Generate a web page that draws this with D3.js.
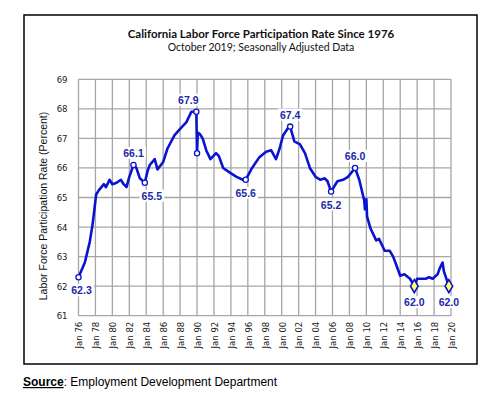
<!DOCTYPE html>
<html>
<head>
<meta charset="utf-8">
<script src="https://cdn.jsdelivr.net/npm/d3@7"></script>
<style>
  body { margin: 0; background: #fff; }
  svg { display: block; }
</style>
</head>
<body>
<div id="chart"></div>
<script>
// data (month, percent)
const months = [
  "1976-01","1976-10","1977-05","1977-09","1978-02","1978-06","1979-01","1979-04","1979-09","1980-01",
  "1980-07","1981-01","1981-05","1981-09","1982-01","1982-07","1982-11","1983-04","1983-11","1984-03",
  "1984-06","1985-01","1985-05","1986-01","1986-07","1987-05","1988-02","1988-10","1989-05","1989-12",
  "1990-01","1990-02","1990-05","1990-09","1991-02","1991-08","1992-04","1992-08","1993-02","1993-11",
  "1994-09","1995-06","1995-10","1996-07","1997-05","1998-03","1998-10","1999-05","1999-10","2000-03",
  "2000-10","2001-01","2001-07","2002-03","2002-10","2003-05","2004-01","2004-08","2005-02","2005-06",
  "2005-11","2006-08","2007-04","2007-11","2008-09","2009-03","2009-10","2009-11","2010-01","2010-02",
  "2010-07","2011-03","2011-07","2012-01","2012-03","2012-10","2013-03","2013-07","2014-01","2014-07",
  "2015-03","2015-09","2016-01","2017-01","2017-06","2017-11","2018-06","2018-09","2019-01","2019-03",
  "2019-10"
];
const rate = [
  62.3, 62.8, 63.5, 64.1, 65.1, 65.25, 65.45, 65.35, 65.6, 65.45,
  65.5, 65.6, 65.45, 65.35, 65.7, 66.1, 66.0, 65.65, 65.5, 65.9,
  66.1, 66.3, 65.95, 66.2, 66.65, 67.1, 67.35, 67.55, 67.9, 67.9,
  66.5, 67.2, 67.15, 67.0, 66.6, 66.3, 66.5, 66.4, 66.0, 65.85,
  65.7, 65.6, 65.6, 66.0, 66.35, 66.55, 66.6, 66.3, 66.65, 67.1,
  67.35, 67.4, 66.9, 66.8, 66.5, 66.0, 65.7, 65.6, 65.65, 65.55,
  65.2, 65.55, 65.6, 65.7, 66.0, 65.6, 64.9, 64.6, 64.95, 64.35,
  63.95, 63.55, 63.6, 63.3, 63.2, 63.2, 63.0, 62.75, 62.35, 62.4,
  62.25, 62.0, 62.25, 62.25, 62.3, 62.25, 62.4, 62.6, 62.8, 62.5,
  62.0
];

// labelled points
const calloutMonths = ["1976-01","1982-07","1983-11","1989-12","1995-10","2001-01","2005-11","2008-09","2015-09","2019-10"];
const calloutKind   = ["start","max","min","max","min","max","min","max","low","low"];
const plainMarkers  = ["1990-01"];

const yTicks = [61, 62, 63, 64, 65, 66, 67, 68, 69];

const parse = d3.timeParse("%Y-%m");
const series = months.map((m, i) => ({ date: parse(m), value: rate[i] }));

const W = 498, H = 393;
const svg = d3.select("#chart").append("svg")
  .attr("width", W).attr("height", H);

// outer frame
svg.append("rect")
  .attr("x", 24).attr("y", 15).attr("width", 453).attr("height", 349)
  .attr("fill", "none").attr("stroke", "#000").attr("stroke-width", 1.5);

const x = d3.scaleTime()
  .domain([parse("1976-01"), parse("2020-01")])
  .range([78.5, 451]);
const y = d3.scaleLinear()
  .domain([61, 69])
  .range([315.7, 79.3]);

// grid
const grid = svg.append("g").attr("stroke", "#a6a6a6").attr("stroke-width", 1.3);
const xTicks = x.ticks(d3.timeYear.every(2));
grid.selectAll(".v").data(xTicks).join("line")
  .attr("x1", d => x(d)).attr("x2", d => x(d))
  .attr("y1", y(69)).attr("y2", y(61));
grid.selectAll(".h").data(yTicks).join("line")
  .attr("x1", x.range()[0]).attr("x2", x.range()[1])
  .attr("y1", d => y(d)).attr("y2", d => y(d));

// axes (labels only)
const yAxis = svg.append("g")
  .attr("transform", `translate(${x.range()[0]},0)`)
  .call(d3.axisLeft(y).tickValues(yTicks).tickSize(0).tickPadding(11).tickFormat(d3.format("d")));
yAxis.select(".domain").remove();
yAxis.selectAll("text")
  .attr("font-family", "'DejaVu Sans Condensed', 'DejaVu Sans', sans-serif")
  .attr("font-size", 9.5).attr("fill", "#222");

const xAxis = svg.append("g")
  .attr("transform", `translate(0,${y(61)})`)
  .call(d3.axisBottom(x).tickValues(xTicks).tickSize(0).tickFormat(d3.timeFormat("Jan %y")));
xAxis.select(".domain").remove();
xAxis.selectAll("text")
  .attr("font-family", "'DejaVu Sans Condensed', 'DejaVu Sans', sans-serif")
  .attr("font-size", 9.5).attr("fill", "#222")
  .attr("transform", "rotate(-90)")
  .attr("text-anchor", "end")
  .attr("x", -6).attr("y", 0).attr("dy", "0.35em");

// line
svg.append("path")
  .datum(series)
  .attr("fill", "none")
  .attr("stroke", "#0a14d0")
  .attr("stroke-width", 2.6)
  .attr("stroke-linejoin", "round")
  .attr("d", d3.line().x(d => x(d.date)).y(d => y(d.value)));

const byMonth = new Map(months.map((m, i) => [m, series[i]]));

// small open markers
plainMarkers.concat(calloutMonths.filter((m, i) => calloutKind[i] !== "low")).forEach(m => {
  const p = byMonth.get(m);
  svg.append("circle")
    .attr("cx", x(p.date)).attr("cy", y(p.value)).attr("r", 2.6)
    .attr("fill", "#fff").attr("stroke", "#0a14d0").attr("stroke-width", 1.3);
});

// yellow diamonds for lows
calloutMonths.forEach((m, i) => {
  if (calloutKind[i] !== "low") return;
  const p = byMonth.get(m);
  svg.append("path")
    .attr("d", d3.symbol(d3.symbolDiamond, 50)())
    .attr("transform", `translate(${x(p.date)},${y(p.value)})`)
    .attr("fill", "#ffff66").attr("stroke", "#0a14d0").attr("stroke-width", 1.6);
});

// callout labels
const nudge = { "1976-01": 3, "1983-11": 7, "1989-12": -8 };
const drop = { start: 17, min: 17, low: 20, max: -8 };
calloutMonths.forEach((m, i) => {
  const p = byMonth.get(m);
  const g = svg.append("g")
    .attr("transform", `translate(${x(p.date) + (nudge[m] || 0)},${y(p.value) + drop[calloutKind[i]]})`);
  const t = g.append("text")
    .attr("text-anchor", "middle")
    .attr("font-family", "'Liberation Sans', Arial, sans-serif")
    .attr("font-weight", "bold").attr("font-size", 10.5)
    .attr("fill", "#1c2aa6")
    .text(d3.format(".1f")(p.value));
  const b = t.node().getBBox();
  g.insert("rect", "text")
    .attr("x", b.x - 2).attr("y", b.y).attr("width", b.width + 4).attr("height", b.height)
    .attr("fill", "#fff");
});

// titles
svg.append("text")
  .attr("x", 261).attr("y", 37.5).attr("text-anchor", "middle")
  .attr("font-family", "Lato, 'Open Sans', sans-serif")
  .attr("font-weight", "bold").attr("font-size", 11.5).attr("fill", "#111")
  .text("California Labor Force Participation Rate Since 1976");
svg.append("text")
  .attr("x", 261).attr("y", 50.5).attr("text-anchor", "middle")
  .attr("font-family", "Lato, 'Open Sans', sans-serif")
  .attr("font-size", 10.5).attr("fill", "#111")
  .text("October 2019; Seasonally Adjusted Data");

svg.append("text")
  .attr("transform", "translate(47,206) rotate(-90)")
  .attr("text-anchor", "middle")
  .attr("font-family", "'Liberation Sans', Arial, sans-serif")
  .attr("font-size", 10.5).attr("fill", "#111")
  .text("Labor Force Participation Rate (Percent)");

// source note
const src = svg.append("text")
  .attr("x", 23).attr("y", 386)
  .attr("font-family", "'Liberation Sans', Arial, sans-serif")
  .attr("font-size", 12).attr("fill", "#000");
src.append("tspan").attr("font-weight", "bold").attr("text-decoration", "underline").text("Source");
src.append("tspan").text(": Employment Development Department");
</script>
</body>
</html>
